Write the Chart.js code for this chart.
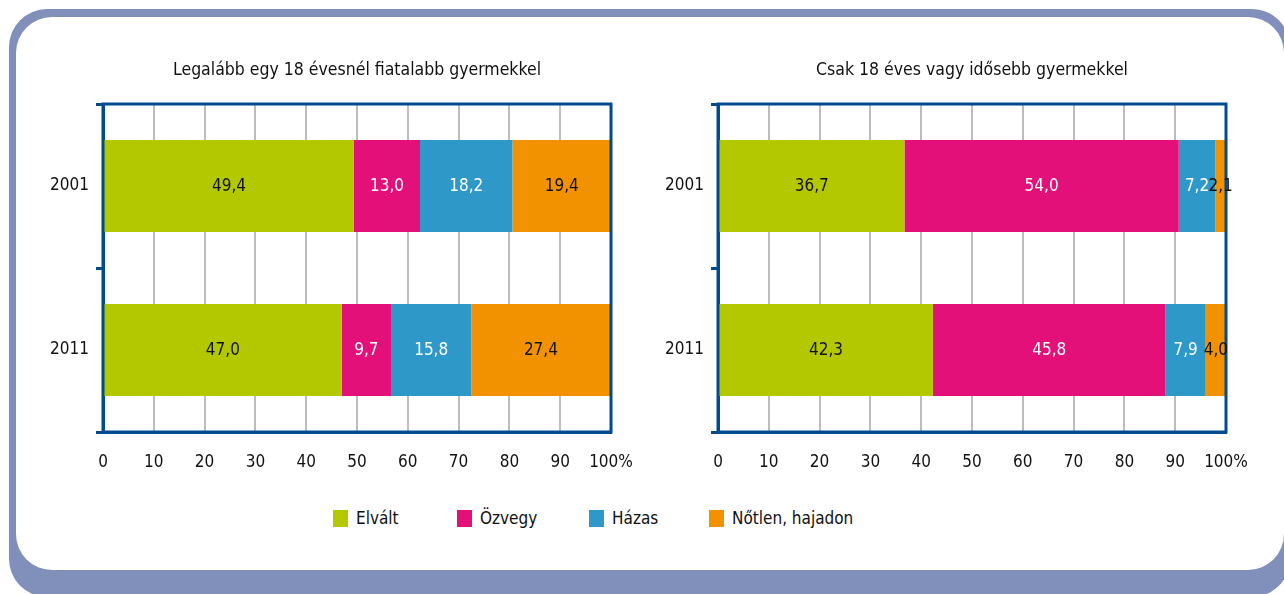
<!DOCTYPE html>
<html>
<head>
<meta charset="utf-8">
<script src="https://cdn.jsdelivr.net/npm/chart.js"></script>
<style>
  html, body { margin: 0; padding: 0; width: 1284px; height: 594px; overflow: hidden; background: #fff; }
  body { position: relative; font-family: "Liberation Sans Narrow", "DejaVu Sans Condensed", sans-serif; }
  #frame { position: absolute; left: 9px; top: 9px; width: 1281px; height: 588px; border-radius: 38px; background: #8090bb; }
  #panel { position: absolute; left: 16px; top: 17px; width: 1268px; height: 553px; border-radius: 36px; background: #fff; }
  canvas { position: absolute; top: 40px; }
  #left { left: 20px; }
  #right { left: 635px; }
  .leg { position: absolute; top: 510px; height: 17px; font-size: 17px; line-height: 17px; color: #111; white-space: nowrap; }
  .leg i { display: inline-block; width: 15px; height: 17px; vertical-align: top; margin-right: 8px; }
</style>
</head>
<body>
<div id="frame"></div>
<div id="panel"></div>
<canvas id="left" width="640" height="450"></canvas>
<canvas id="right" width="640" height="450"></canvas>
<div id="legend"></div>
<script>
  const years = ['2001', '2011'];
  const seriesNames = ['Elvált', 'Özvegy', 'Házas', 'Nőtlen, hajadon'];
  const titles = ['Legalább egy 18 évesnél fiatalabb gyermekkel', 'Csak 18 éves vagy idősebb gyermekkel'];

  // left chart: at least one child under 18
  const youngElvalt = [49.4, 47.0];
  const youngOzvegy = [13.0, 9.7];
  const youngHazas = [18.2, 15.8];
  const youngNotlen = [19.4, 27.4];

  // right chart: only children 18 or older
  const adultElvalt = [36.7, 42.3];
  const adultOzvegy = [54.0, 45.8];
  const adultHazas = [7.2, 7.9];
  const adultNotlen = [2.1, 4.0];

  const colors = ['#b4c800', '#e3107a', '#2e99c9', '#f39200'];
  const labelColors = ['#111', '#fff', '#fff', '#111'];
  const BLUE = '#004b8d';
  const FONT = '"Liberation Sans Narrow", "DejaVu Sans Condensed", sans-serif';
  const legendX = [333, 457, 589, 709];

  Chart.defaults.font.family = FONT;
  Chart.defaults.color = '#111';

  const boxPlugin = {
    id: 'boxAndLabels',
    afterDatasetsDraw(chart, args, opts) {
      const { ctx, chartArea: a } = chart;
      ctx.save();
      ctx.strokeStyle = BLUE;
      ctx.lineWidth = 3;
      ctx.lineCap = 'square';
      ctx.strokeRect(a.left, a.top, a.right - a.left, a.bottom - a.top);

      ctx.font = '17px ' + FONT;
      ctx.textAlign = 'center';
      ctx.textBaseline = 'middle';
      chart.data.datasets.forEach((ds, i) => {
        chart.getDatasetMeta(i).data.forEach((bar, j) => {
          ctx.fillStyle = labelColors[i];
          ctx.fillText(ds.data[j].toFixed(1).replace('.', ','), (bar.x + bar.base) / 2, bar.y + 1);
        });
      });

      ctx.fillStyle = '#111';
      ctx.font = '17.5px ' + FONT;
      ctx.fillText(opts.title, (a.left + a.right) / 2, 30);
      ctx.restore();
    }
  };

  function makeChart(id, title, series) {
    new Chart(document.getElementById(id), {
      type: 'bar',
      data: {
        labels: years,
        datasets: series.map((d, i) => ({
          label: seriesNames[i],
          data: d,
          backgroundColor: colors[i],
          borderWidth: 0,
          barPercentage: 0.56,
          categoryPercentage: 1
        }))
      },
      options: {
        indexAxis: 'y',
        responsive: false,
        animation: false,
        devicePixelRatio: 1,
        layout: { padding: { top: 64, right: 49, left: 0, bottom: 0 } },
        plugins: {
          legend: { display: false },
          tooltip: { enabled: false },
          boxAndLabels: { title: title }
        },
        scales: {
          x: {
            stacked: true,
            min: 0,
            max: 100,
            ticks: {
              stepSize: 10,
              padding: 20,
              font: { size: 17 },
              callback: v => v === 100 ? '100%' : v
            },
            grid: {
              drawTicks: false,
              lineWidth: 2,
              color: c => (c.tick && (c.tick.value === 0 || c.tick.value === 100)) ? 'rgba(0,0,0,0)' : '#bdbdbd'
            },
            border: { display: true, color: BLUE, width: 3 },
            afterFit: s => { s.height = 58; }
          },
          y: {
            stacked: true,
            offset: true,
            ticks: { padding: 7, font: { size: 17 } },
            grid: { offset: true, drawOnChartArea: false, drawTicks: true, tickLength: 7, color: BLUE, lineWidth: 3 },
            border: { display: true, color: BLUE, width: 3 },
            afterFit: s => { s.width = 83; }
          }
        }
      },
      plugins: [boxPlugin]
    });
  }

  makeChart('left', titles[0], [youngElvalt, youngOzvegy, youngHazas, youngNotlen]);
  makeChart('right', titles[1], [adultElvalt, adultOzvegy, adultHazas, adultNotlen]);

  const legend = document.getElementById('legend');
  seriesNames.forEach((name, i) => {
    const el = document.createElement('div');
    el.className = 'leg';
    el.style.left = legendX[i] + 'px';
    el.innerHTML = '<i style="background:' + colors[i] + '"></i>' + name;
    legend.appendChild(el);
  });
</script>
</body>
</html>
